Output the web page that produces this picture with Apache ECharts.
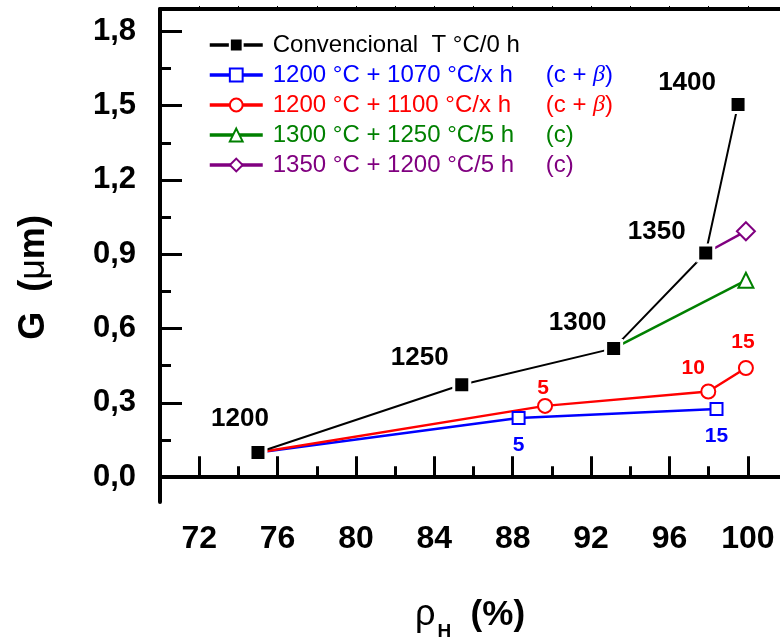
<!DOCTYPE html>
<html>
<head>
<meta charset="utf-8">
<script src="https://cdn.jsdelivr.net/npm/echarts@6/dist/echarts.min.js"></script>
<style>
  html, body { margin: 0; padding: 0; background: #fff; }
  #chart { width: 780px; height: 639px; }
</style>
</head>
<body>
<div id="chart"></div>
<script>
var FONT = '"Liberation Sans", Arial, sans-serif';

// series names / phases
var seriesNames = [
  'Convencional  T °C/0 h',
  '1200 °C + 1070 °C/x h',
  '1200 °C + 1100 °C/x h',
  '1300 °C + 1250 °C/5 h',
  '1350 °C + 1200 °C/5 h'
];
var phaseNotes = ['', 'c + β', 'c + β', 'c', 'c'];

// conventional sintering, T °C / 0 h
var convTemps = ['1200', '1250', '1300', '1350', '1400'];
var convX = [75.0, 85.4, 93.15, 97.85, 99.5];
var convY = [0.10, 0.373, 0.52, 0.905, 1.505];

// 1200 + 1070 °C / x h
var blueHours = ['', '5', '15'];
var blueX = [75.0, 88.3, 98.4];
var blueY = [0.10, 0.239, 0.275];

// 1200 + 1100 °C / x h
var redHours = ['', '5', '10', '15'];
var redX = [75.0, 89.65, 97.98, 99.9];
var redY = [0.10, 0.288, 0.346, 0.441];

// 1300 + 1250 °C / 5 h
var greenX = [93.15, 99.9];
var greenY = [0.52, 0.795];

// 1350 + 1200 °C / 5 h
var purpleX = [97.85, 99.9];
var purpleY = [0.905, 0.993];

// ticks
var xMajor = [72, 76, 80, 84, 88, 92, 96, 100];
var xMinor = [74, 78, 82, 86, 90, 94, 98];
var yMajor = [0, 0.3, 0.6, 0.9, 1.2, 1.5, 1.8];
var yMinor = [0.15, 0.45, 0.75, 1.05, 1.35, 1.65];

// label offsets (px from the point)
var convOffsets = [[-18, -34], [-42, -27], [-36, -26], [-49, -21], [-51, -22]];
var blueOffsets = [[0, 0], [0, 27], [0, 27]];
var redOffsets = [[0, 0], [-2, -18], [-15, -23], [-3, -26]];

function buildData(xs, ys, labels, offsets, color, size, hideFirst) {
  var out = [];
  for (var i = 0; i < xs.length; i++) {
    var item = { value: [xs[i], ys[i]], name: labels ? labels[i] : '' };
    if (hideFirst && i === 0) item.symbol = 'none';
    if (labels && labels[i]) {
      item.label = {
        show: true,
        position: 'inside',
        offset: offsets[i],
        formatter: '{b}',
        color: color,
        fontFamily: FONT,
        fontWeight: 'bold',
        fontSize: size,
        textBorderWidth: 0
      };
    }
    out.push(item);
  }
  return out;
}

var xAxisBase = { type: 'value', min: 70, max: 101.64, gridIndex: 0, splitLine: { show: false } };

var chart = echarts.init(document.getElementById('chart'));
var option = {
  animation: false,
  backgroundColor: '#fff',
  grid: { left: 160, right: 0, top: 9, bottom: 137, outerBoundsMode: 'none' },
  legend: {
    orient: 'vertical',
    left: 203,
    top: 28,
    itemWidth: 53,
    itemHeight: 16,
    itemGap: 6,
    selectedMode: false,
    lineStyle: { width: 3.5 },
    data: seriesNames.map(function (n, i) {
      var c = ['#000000', '#0000ff', '#ff0000', '#008000', '#800080'][i];
      return {
        name: n,
        textStyle: {
          color: c,
          fontFamily: FONT,
          fontSize: 24,
          rich: {
            m: { color: c, fontFamily: FONT, fontSize: 24, width: 273, padding: [0, 0, 0, 5] },
            t: { color: c, fontFamily: FONT, fontSize: 24 },
            b: { color: c, fontFamily: '"Liberation Serif", serif', fontStyle: 'italic', fontSize: 24 }
          }
        }
      };
    }),
    formatter: function (name) {
      var note = phaseNotes[seriesNames.indexOf(name)];
      if (!note) return '{m|' + name + '}';
      if (note.indexOf('β') >= 0) return '{m|' + name + '}{t|(c + }{b|β}{t|)}';
      return '{m|' + name + '}{t|(' + note + ')}';
    }
  },
  xAxis: [
    Object.assign({}, xAxisBase, {
      position: 'bottom',
      axisLine: { show: true, lineStyle: { color: '#000', width: 4 } },
      axisTick: { show: true, inside: true, length: 21, lineStyle: { color: '#000', width: 3 }, customValues: xMajor },
      axisLabel: {
        customValues: xMajor, color: '#000', fontFamily: FONT, fontWeight: 'bold', fontSize: 32, margin: 21
      },
      name: '{r|ρ}{s|H}{p|  (%)}',
      nameLocation: 'middle',
      nameGap: 88,
      nameTextStyle: {
        rich: {
          r: { fontFamily: FONT, fontSize: 36, color: '#000' },
          s: { fontFamily: FONT, fontSize: 19, fontWeight: 'bold', color: '#000', padding: [32, 0, 0, 2] },
          p: { fontFamily: FONT, fontSize: 35, fontWeight: 'bold', color: '#000' }
        }
      }
    }),
    Object.assign({}, xAxisBase, {
      position: 'bottom',
      axisLine: { show: false },
      axisTick: { show: true, inside: true, length: 11, lineStyle: { color: '#000', width: 3 }, customValues: xMinor },
      axisLabel: { show: false }
    }),
    Object.assign({}, xAxisBase, {
      position: 'top',
      axisLine: { show: true, lineStyle: { color: '#000', width: 4 } },
      axisTick: { show: true, inside: false, length: 3, lineStyle: { color: '#000', width: 1 }, customValues: xMajor.concat(xMinor) },
      axisLabel: { show: false }
    })
  ],
  yAxis: [
    {
      type: 'value', min: -0.1, max: 1.89, position: 'left',
      splitLine: { show: false },
      axisLine: { show: true, lineStyle: { color: '#000', width: 4 } },
      axisTick: { show: true, inside: true, length: 22, lineStyle: { color: '#000', width: 3 }, customValues: yMajor },
      axisLabel: {
        customValues: yMajor, color: '#000', fontFamily: FONT, fontWeight: 'bold', fontSize: 31, margin: 24,
        formatter: function (v) { return v.toFixed(1).replace('.', ','); }
      },
      name: '{g|G  (}{u|μ}{g|m)}',
      nameLocation: 'middle',
      nameRotate: 90,
      nameGap: 108,
      nameTextStyle: {
        padding: [0, 44, 0, 0],
        rich: {
          g: { fontFamily: FONT, fontSize: 36, fontWeight: 'bold', color: '#000' },
          u: { fontFamily: FONT, fontSize: 36, color: '#000' }
        }
      }
    },
    {
      type: 'value', min: -0.1, max: 1.89, position: 'left',
      splitLine: { show: false },
      axisLine: { show: false },
      axisTick: { show: true, inside: true, length: 11, lineStyle: { color: '#000', width: 3 }, customValues: yMinor },
      axisLabel: { show: false }
    }
  ],
  series: [
    {
      name: seriesNames[0], type: 'line', z: 5,
      symbol: 'rect', symbolSize: 16,
      itemStyle: { color: '#000', borderColor: '#fff', borderWidth: 3 },
      lineStyle: { color: '#000', width: 2 },
      data: buildData(convX, convY, convTemps, convOffsets, '#000', 26, false)
    },
    {
      name: seriesNames[1], type: 'line', z: 3,
      symbol: 'emptyRect', symbolSize: 12,
      itemStyle: { color: '#0000ff', borderWidth: 1.5 },
      lineStyle: { color: '#0000ff', width: 2.5 },
      data: buildData(blueX, blueY, blueHours, blueOffsets, '#0000ff', 21, true)
    },
    {
      name: seriesNames[2], type: 'line', z: 3,
      symbol: 'emptyCircle', symbolSize: 14,
      itemStyle: { color: '#ff0000', borderWidth: 1.5 },
      lineStyle: { color: '#ff0000', width: 2.5 },
      data: buildData(redX, redY, redHours, redOffsets, '#ff0000', 21, true)
    },
    {
      name: seriesNames[3], type: 'line', z: 3,
      symbol: 'emptyTriangle', symbolSize: 15,
      itemStyle: { color: '#008000', borderWidth: 1.5 },
      lineStyle: { color: '#008000', width: 2.5 },
      data: buildData(greenX, greenY, null, null, '#008000', 21, true)
    },
    {
      name: seriesNames[4], type: 'line', z: 3,
      symbol: 'emptyDiamond', symbolSize: 18,
      itemStyle: { color: '#800080', borderWidth: 1.5 },
      lineStyle: { color: '#800080', width: 2.5 },
      data: buildData(purpleX, purpleY, null, null, '#800080', 21, true)
    }
  ]
};
chart.setOption(option);
</script>
</body>
</html>
